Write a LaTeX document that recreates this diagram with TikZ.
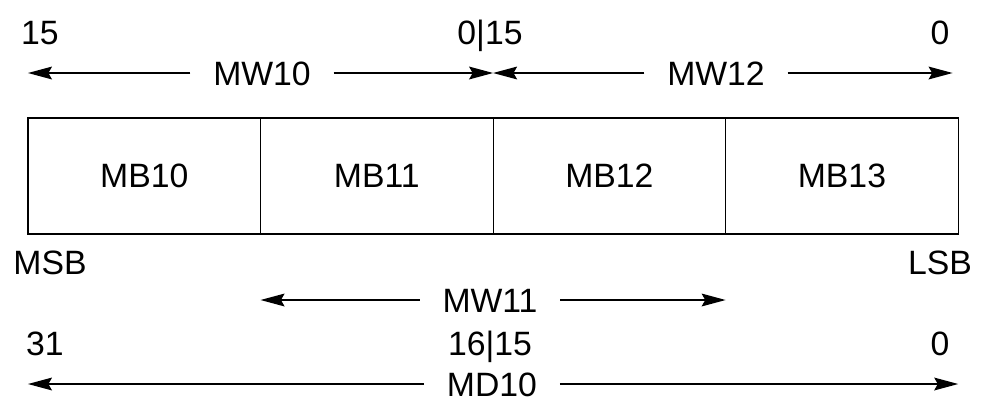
\documentclass[tikz,border=0pt]{standalone}
\usepackage{fontspec}
\setmainfont{Liberation Sans}
\usetikzlibrary{arrows.meta, positioning}

\begin{document}
\begin{tikzpicture}[
    x=0.025cm, y=-0.025cm,
    bytebox/.style={draw, rectangle, line width=0.8pt, outer sep=0pt,
      minimum width=5.8125cm, minimum height=2.9cm, font=\fontsize{24}{28}\selectfont},
    lbl/.style={font=\fontsize{24}{28}\selectfont, inner sep=0pt,
      text height=17.2pt, text depth=0pt},
    wordlbl/.style={lbl, inner xsep=16pt},
    arrow/.style={line width=1pt, -{Stealth[length=0.6cm, width=0.32cm, inset=0.09cm]}}
]
\useasboundingbox (0,0) rectangle (984,410);

% the four bytes
\node[bytebox] (mb10) at (144.25,176) {MB10};
\node[bytebox, right=0pt of mb10] (mb11) {MB11};
\node[bytebox, right=0pt of mb11] (mb12) {MB12};
\node[bytebox, right=0pt of mb12] (mb13) {MB13};

% bit numbers and words above
\node[lbl] (b15) at (40,32) {15};
\node[lbl] (b0l15) at (490,32) {0|15};
\node[lbl] (b0a) at (940,32) {0};
\node[wordlbl] (mw10) at (262,73) {MW10};
\node[wordlbl] (mw12) at (716,73) {MW12};

% below
\node[lbl] (msb) at (50,262) {MSB};
\node[lbl] (lsb) at (940,262) {LSB};
\node[wordlbl] (mw11) at (490,300) {MW11};
\node[lbl] (b31) at (45,343) {31};
\node[lbl] (b16l15) at (490,343) {16|15};
\node[lbl] (b0b) at (940,343) {0};
\node[wordlbl] (md10) at (492,384) {MD10};

\draw[arrow] (mw10.west) -- (mw10.west -| mb10.west);
\draw[arrow] (mw10.east) -- (mw10.east -| mb11.east);
\draw[arrow] (mw12.west) -- (mw12.west -| mb12.west);
\draw[arrow] (mw12.east) -- ([xshift=-4pt]mw12.east -| mb13.east);
\draw[arrow] (mw11.west) -- (mw11.west -| mb11.west);
\draw[arrow] (mw11.east) -- (mw11.east -| mb12.east);
\draw[arrow] (md10.west) -- (md10.west -| mb10.west);
\draw[arrow] (md10.east) -- (md10.east -| mb13.east);
\end{tikzpicture}
\end{document}
